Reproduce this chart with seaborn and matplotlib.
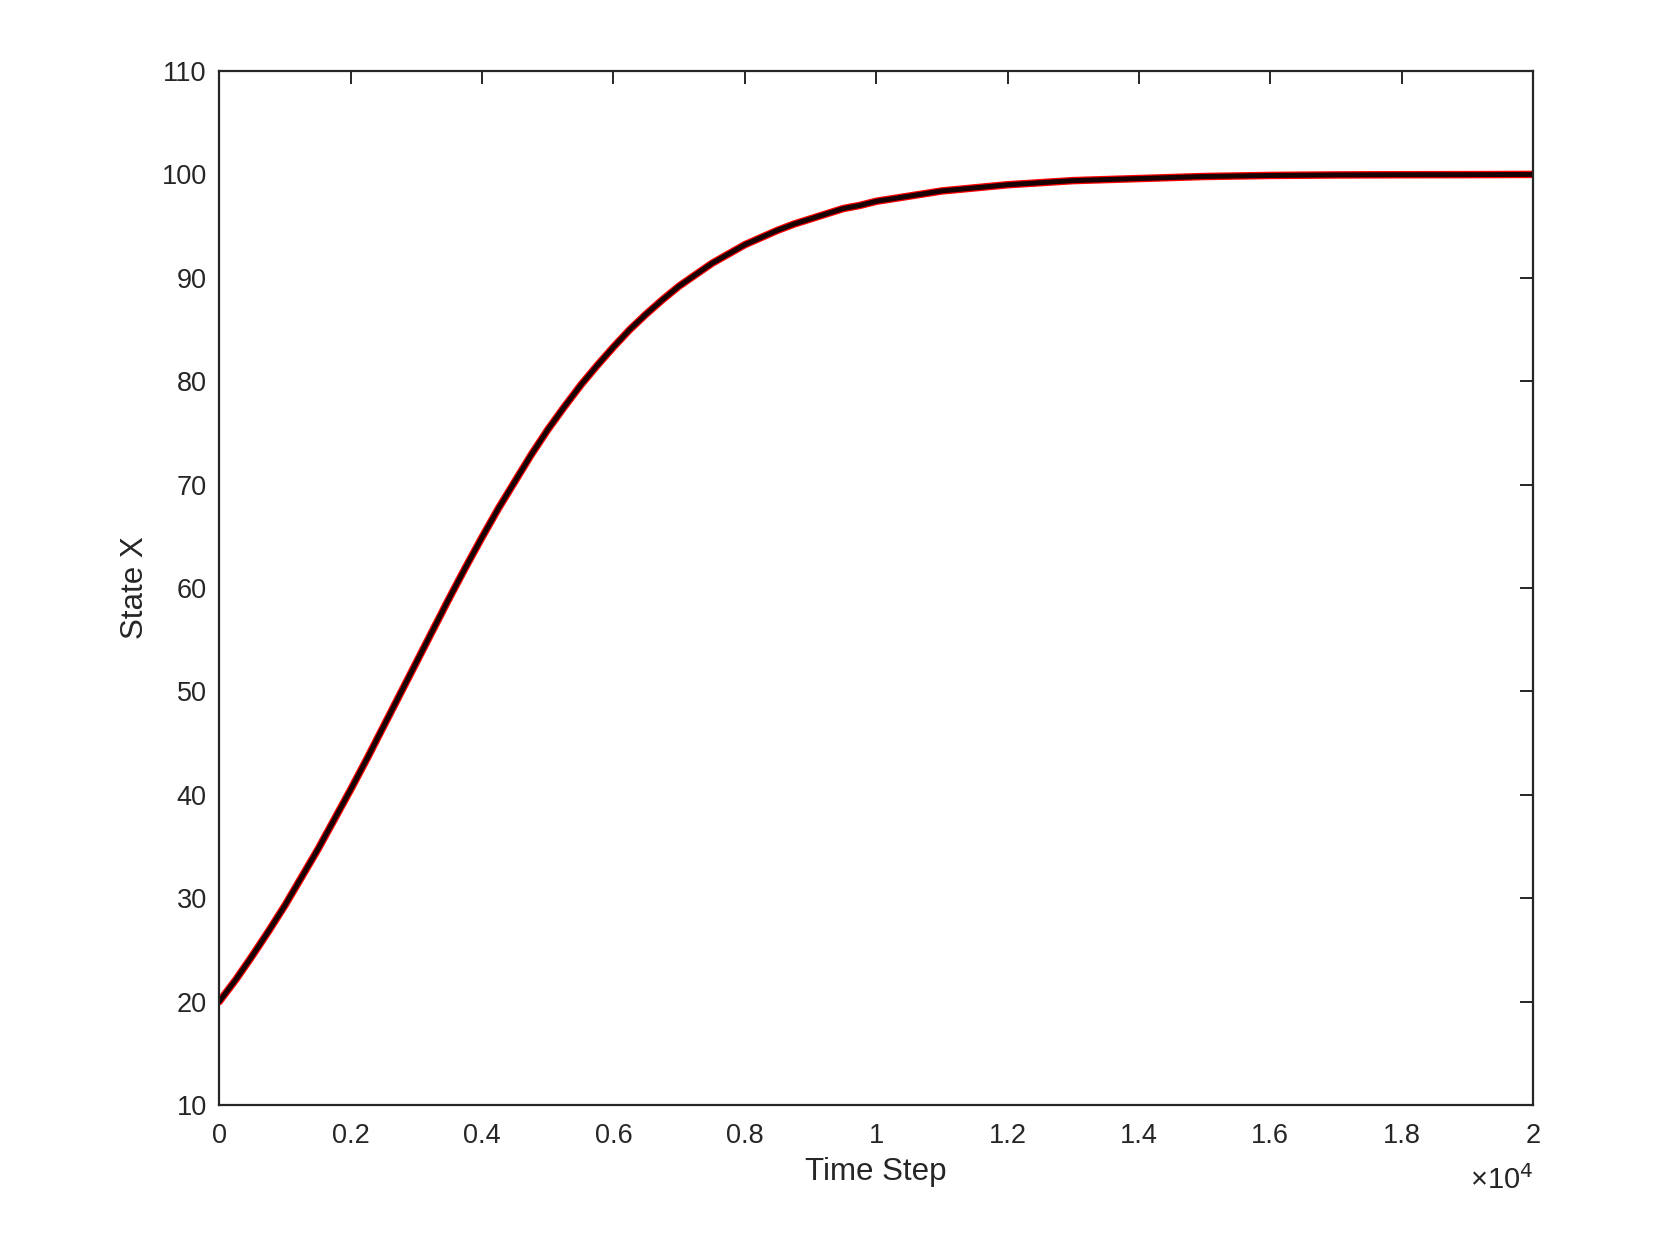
import pandas as pd
import matplotlib.pyplot as plt
import seaborn as sns
from matplotlib.ticker import FuncFormatter

# values
time_step = [0, 250, 500, 750, 1000, 1250, 1500, 1750, 2000, 2250, 2500,
             2750, 3000, 3250, 3500, 3750, 4000, 4250, 4500, 4750, 5000,
             5250, 5500, 5750, 6000, 6250, 6500, 6750, 7000, 7250, 7500,
             7750, 8000, 8250, 8500, 8750, 9000, 9250, 9500, 9750, 10000,
             10500, 11000, 11500, 12000, 12500, 13000, 13500, 14000, 14500,
             15000, 16000, 17000, 18000, 19000, 20000]
state_x = [20.0, 22.1, 24.4, 26.8, 29.3, 32.0, 34.7, 37.6, 40.5, 43.5, 46.6,
           49.7, 52.8, 55.9, 59.0, 62.0, 64.9, 67.7, 70.3, 72.9, 75.3,
           77.5, 79.6, 81.5, 83.3, 85.0, 86.5, 87.9, 89.2, 90.3, 91.4,
           92.3, 93.2, 93.9, 94.6, 95.2, 95.7, 96.2, 96.7, 97.0, 97.4,
           97.9, 98.4, 98.7, 99.0, 99.2, 99.4, 99.5, 99.6, 99.7,
           99.8, 99.9, 99.95, 99.97, 99.98, 100.0]

df = pd.DataFrame({'time': time_step, 'x': state_x})

sns.set_style('white')
plt.rcParams['font.family'] = ['Liberation Sans', 'DejaVu Sans']
txt = '#262626'

fig = plt.figure(figsize=(16.61, 12.46), dpi=100)
ax = fig.add_axes([0.132, 0.1132, 0.791, 0.8298])

# red reference line under the black simulated trace
sns.lineplot(data=df, x='time', y='x', ax=ax, color='red', linewidth=5.4,
             solid_joinstyle='round', solid_capstyle='round')
sns.lineplot(data=df, x='time', y='x', ax=ax, color='#1a0000', linewidth=3.6,
             solid_joinstyle='round', solid_capstyle='round')

ax.set_xlim(0, 20000)
ax.set_ylim(10, 110)
ax.set_xticks(range(0, 20001, 2000))
ax.set_yticks(range(10, 111, 10))
ax.xaxis.set_major_formatter(FuncFormatter(lambda v, p: '%g' % (v / 1e4)))

ax.tick_params(direction='in', length=9.5, width=1.4, colors=txt,
               labelsize=19.5, top=True, right=True, pad=9)
ax.tick_params(axis='x', pad=13)
for s in ax.spines.values():
    s.set_color(txt)
    s.set_linewidth(1.6)

ax.set_xlabel('Time Step', fontsize=22.5, color=txt, labelpad=6)
ax.set_ylabel('State X', fontsize=22.5, color=txt, labelpad=8)

ax.text(1.0, -0.058, '\u00d710$^{4}$', transform=ax.transAxes,
        ha='right', va='top', fontsize=21, color=txt)

fig.savefig('out.png', dpi=100)
plt.close()
